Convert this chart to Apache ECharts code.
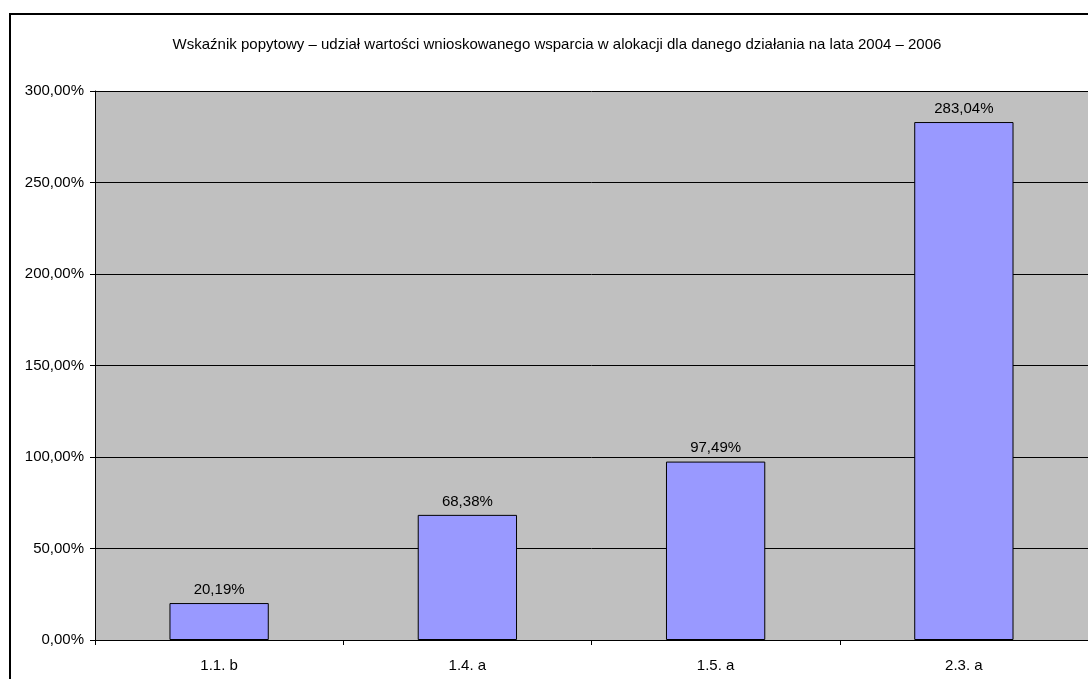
<!DOCTYPE html>
<html>
<head>
<meta charset="utf-8">
<script src="https://cdn.jsdelivr.net/npm/echarts@6/dist/echarts.min.js"></script>
<style>html,body{margin:0;padding:0;background:#fff;}#c{width:1088px;height:679px;}</style>
</head>
<body>
<div id="c"></div>
<script>
var titleText = 'Wskaźnik popytowy – udział wartości wnioskowanego wsparcia w alokacji dla danego działania na lata 2004 – 2006';
var categories = ['1.1. b', '1.4. a', '1.5. a', '2.3. a'];
var values = [20.19, 68.38, 97.49, 283.04];
var yMin = 0, yMax = 300, yStep = 50;

function fmt(v) { return v.toFixed(2).replace('.', ',') + '%'; }

var chart = echarts.init(document.getElementById('c'), null, {renderer: 'canvas'});
var FONT = 'Liberation Sans, Arial, sans-serif';
chart.setOption({
  animation: false,
  backgroundColor: '#ffffff',
  title: {
    text: titleText,
    left: 552, top: 32, textAlign: 'center',
    textStyle: {fontFamily: FONT, fontSize: 15, fontWeight: 'normal', color: '#000'}
  },
  graphic: [{
    type: 'rect', z: 100, silent: true,
    shape: {x: 10, y: 14, width: 1200, height: 800},
    style: {fill: 'none', stroke: '#000', lineWidth: 2}
  }],
  grid: {left: 95, top: 91, width: 995, height: 549, containLabel: false,
         show: true, backgroundColor: '#c0c0c0', borderWidth: 0},
  xAxis: {
    type: 'category', data: categories,
    axisLine: {lineStyle: {color: '#000', width: 1}},
    axisTick: {show: true, length: 5, lineStyle: {color: '#000'}},
    axisLabel: {fontFamily: FONT, fontSize: 15, color: '#000', margin: 18},
    splitLine: {show: false}
  },
  yAxis: {
    type: 'value', min: yMin, max: yMax, interval: yStep,
    axisLine: {show: true, lineStyle: {color: '#000', width: 1}},
    axisTick: {show: true, length: 5, lineStyle: {color: '#000'}},
    axisLabel: {fontFamily: FONT, fontSize: 15, color: '#000', margin: 11,
                formatter: function (v) { return fmt(v); }},
    splitLine: {show: true, lineStyle: {color: '#000', width: 1}}
  },
  series: [{
    type: 'bar', data: values, barWidth: '40%',
    itemStyle: {color: '#9999ff', borderColor: '#000', borderWidth: 1},
    label: {show: true, position: 'top', distance: 6, fontFamily: FONT, fontSize: 15, color: '#000',
            formatter: function (p) { return fmt(p.value); }}
  }]
});
</script>
</body>
</html>
